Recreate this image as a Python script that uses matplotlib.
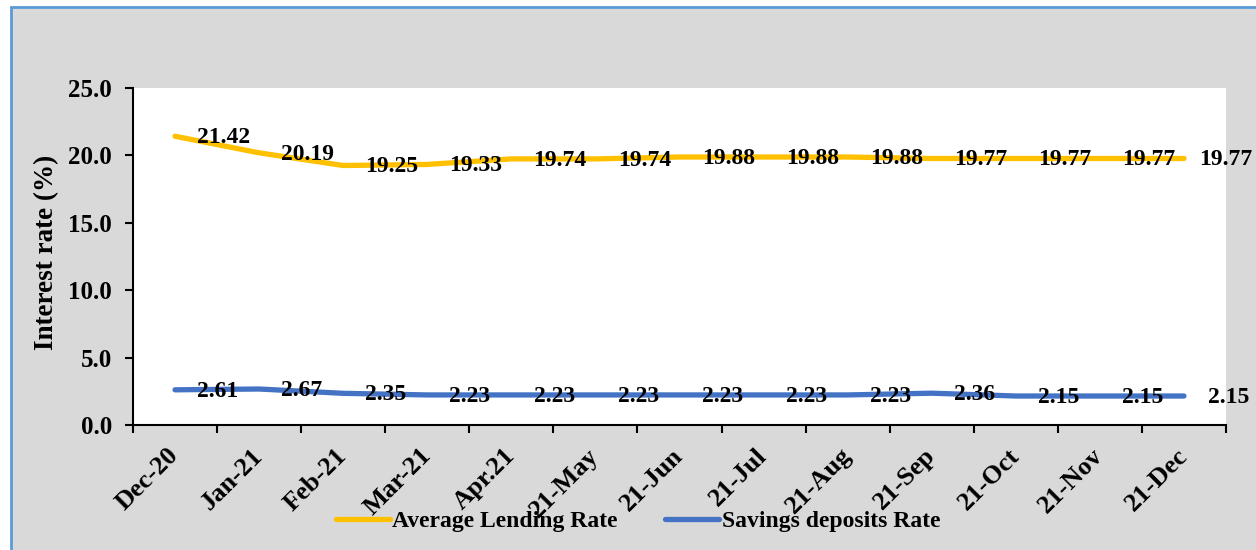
import matplotlib
matplotlib.use("Agg")
import matplotlib.pyplot as plt
from matplotlib.patches import Rectangle
from matplotlib.ticker import FixedLocator, FormatStrFormatter

months = ["Dec-20", "Jan-21", "Feb-21", "Mar-21", "Apr.21", "21-May", "21-Jun",
          "21-Jul", "21-Aug", "21-Sep", "21-Oct", "21-Nov", "21-Dec"]
lending_rate = [21.42, 20.19, 19.25, 19.33, 19.74, 19.74, 19.88,
                19.88, 19.88, 19.77, 19.77, 19.77, 19.77]
savings_rate = [2.61, 2.67, 2.35, 2.23, 2.23, 2.23, 2.23,
                2.23, 2.23, 2.36, 2.15, 2.15, 2.15]

YELLOW = "#ffc000"
BLUE = "#4472c4"
FONT = ["Liberation Serif", "DejaVu Serif"]

plt.rcParams["font.family"] = FONT
plt.rcParams["font.weight"] = "bold"

fig = plt.figure(figsize=(12.56, 5.5), dpi=100, facecolor="white")

# grey chart panel with a blue outline
panel = Rectangle((11 / 1256, -0.2), 1.2, 1 - 7 / 550 + 0.2,
                  transform=fig.transFigure, facecolor="#d9d9d9",
                  edgecolor="#5b9bd5", linewidth=2, zorder=-10)
fig.patches.append(panel)

ax = fig.add_axes([133 / 1256, 1 - 425 / 550, (1226 - 133) / 1256, (425 - 88) / 550])
ax.set_facecolor("white")

x = list(range(len(months)))
ax.plot(x, lending_rate, color=YELLOW, lw=3.8, solid_capstyle="round",
        solid_joinstyle="round", label="Average Lending Rate", zorder=3)
ax.plot(x, savings_rate, color=BLUE, lw=3.8, solid_capstyle="round",
        solid_joinstyle="round", label="Savings deposits Rate", zorder=3)

last = len(months) - 1
for series, end_shift in ((lending_rate, 11), (savings_rate, 17)):
    for xi, v in zip(x, series):
        dx = end_shift if xi == last else 16
        ax.annotate(f"{v:.2f}", (xi, v), xytext=(dx, -1), textcoords="offset points",
                    ha="left", va="center", fontsize=17, fontweight="bold",
                    color="black", zorder=4, annotation_clip=False)

ax.set_xlim(-0.5, len(months) - 0.5)
ax.set_ylim(0, 25)
ax.set_yticks([0, 5, 10, 15, 20, 25])
ax.yaxis.set_major_formatter(FormatStrFormatter("%.1f"))

# tick marks between categories, labels centred on each category
ax.xaxis.set_major_locator(FixedLocator([i - 0.5 for i in range(len(months) + 1)]))
ax.xaxis.set_major_formatter(plt.NullFormatter())
ax.xaxis.set_minor_locator(FixedLocator(x))
ax.set_xticklabels(months, minor=True)
ax.tick_params(axis="x", which="major", direction="out", length=6, width=1.5)
ax.tick_params(axis="x", which="minor", length=0, pad=19.5, labelsize=19)
for lbl in ax.get_xticklabels(minor=True):
    lbl.set_rotation(45)
    lbl.set_ha("right")
    lbl.set_va("center")
    lbl.set_rotation_mode("anchor")
    lbl.set_fontweight("bold")

ax.tick_params(axis="y", direction="out", length=6, width=1.5, labelsize=18, pad=9)
for lbl in ax.get_yticklabels():
    lbl.set_fontweight("bold")

for side in ("top", "right"):
    ax.spines[side].set_visible(False)
for side in ("left", "bottom"):
    ax.spines[side].set_linewidth(1.5)
    ax.spines[side].set_color("black")

fig.text(47 / 1256, 1 - 252 / 550, "Interest rate (%)", rotation=90,
         ha="center", va="center", fontsize=19.5, fontweight="bold")

fig.legend(loc="center", bbox_to_anchor=(638 / 1256, 1 - 521 / 550), ncol=2,
           frameon=False, handlelength=2.3, handletextpad=0.1,
           columnspacing=2.0, prop={"weight": "bold", "size": 17, "family": FONT})

fig.savefig("out.png", dpi=100, facecolor=fig.get_facecolor())
